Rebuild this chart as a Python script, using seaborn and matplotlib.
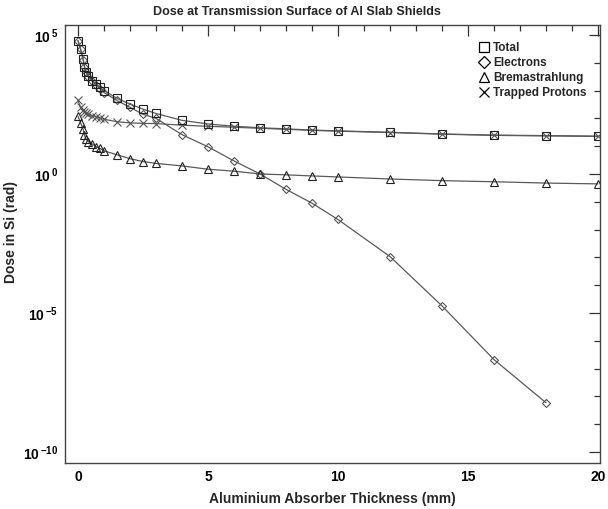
import numpy as np
import pandas as pd
import matplotlib
matplotlib.use("Agg")
import matplotlib.pyplot as plt
import seaborn as sns
from matplotlib.lines import Line2D
from matplotlib.ticker import FixedLocator, NullFormatter

# ---- data ----
thickness = [0, 0.1, 0.2, 0.25, 0.3, 0.4, 0.55, 0.7, 0.85, 1.0, 1.5, 2.0, 2.5, 3.0,
             4.0, 5.0, 6.0, 7.0, 8.0, 9.0, 10.0, 12.0, 14.0, 16.0, 18.0, 20.0]
total = [6.3e4, 3.1e4, 1.35e4, 7.2e3, 4.8e3, 3.4e3, 2.3e3, 1.75e3, 1.3e3, 1.0e3,
         525, 330, 215, 150, 85, 63, 52, 46, 42, 38, 35.5, 31.6, 27.5, 25, 24, 23]
thickness_e = thickness[:-1]
electrons = [6.25e4, 3.05e4, 1.3e4, 7.0e3, 4.6e3, 3.2e3, 2.15e3, 1.6e3, 1.17e3, 850,
             440, 250, 140, 100, 26, 9.5, 2.95, 1.0, 0.28, 0.089, 0.023, 1.07e-3,
             1.8e-5, 2.1e-7, 5.9e-9]
brems = [120, 69, 40, 25, 18.6, 14.5, 12, 9.5, 8.3, 6.8, 4.9, 3.55, 2.8, 2.4,
         1.95, 1.48, 1.26, 1.0, 0.93, 0.85, 0.78, 0.66, 0.575, 0.525, 0.47, 0.44]
protons = [440, 250, 195, 175, 160, 140, 125, 115, 100, 93, 76, 69, 66, 65,
           57, 52, 48, 44, 40.5, 37, 34.7, 31, 27, 24.5, 23.4, 22.4]
labels = ["Total", "Electrons", "Bremastrahlung", "Trapped Protons"]
yticks_major = [1e-10, 1e-5, 1e0, 1e5]
ytick_labels = [r"$\mathbf{10}^{\,\mathbf{-10}}$", r"$\mathbf{10}^{\,\mathbf{-5}}$",
                r"$\mathbf{10}^{\,\mathbf{0}}$", r"$\mathbf{10}^{\,\mathbf{5}}$"]
xticks_major = [0, 5, 10, 15, 20]

sns.set_style("white")
plt.rcParams["font.family"] = ["Liberation Sans", "DejaVu Sans"]
plt.rcParams["font.weight"] = "bold"
plt.rcParams["mathtext.fontset"] = "custom"
plt.rcParams["mathtext.rm"] = "Liberation Sans:bold"
plt.rcParams["mathtext.bf"] = "Liberation Sans:bold"
plt.rcParams["mathtext.it"] = "Liberation Sans:bold"

fig = plt.figure(figsize=(6.08, 5.09), dpi=100)
ax = fig.add_axes([65/608, 1-463/509, (600-65)/608, (463-25)/509])

line_c = "#5a5a5a"
df_e = pd.DataFrame({"t": thickness_e, "d": electrons})
df_b = pd.DataFrame({"t": thickness, "d": brems})
df_p = pd.DataFrame({"t": thickness, "d": protons})
df_t = pd.DataFrame({"t": thickness, "d": total})

sns.lineplot(data=df_e, x="t", y="d", ax=ax, color=line_c, lw=0.9, marker="D",
             markersize=3.6, markerfacecolor="none", markeredgecolor="#555555",
             markeredgewidth=0.8)
sns.lineplot(data=df_b, x="t", y="d", ax=ax, color=line_c, lw=0.9, marker="^",
             markersize=5.5, markerfacecolor="none", markeredgecolor="#222222",
             markeredgewidth=0.8)
sns.lineplot(data=df_p, x="t", y="d", ax=ax, color=line_c, lw=0.9, marker="x",
             markersize=5.5, markeredgecolor="#555555", markeredgewidth=0.8)
sns.lineplot(data=df_t, x="t", y="d", ax=ax, color=line_c, lw=0.9, marker="s",
             markersize=5.5, markerfacecolor="none", markeredgecolor="#222222",
             markeredgewidth=0.8)

ax.set_yscale("log")
ax.set_xlim(-0.5, 20.08)
ax.set_ylim(10**-10.4, 10**5.36)

ax.xaxis.set_major_locator(FixedLocator(xticks_major))
ax.xaxis.set_minor_locator(FixedLocator(np.arange(0, 21, 1)))
ax.set_xticklabels([str(v) for v in xticks_major])
ax.yaxis.set_major_locator(FixedLocator(yticks_major))
ax.yaxis.set_minor_locator(FixedLocator([10.0**k for k in range(-10, 6)]))
ax.yaxis.set_minor_formatter(NullFormatter())
ax.set_yticklabels(ytick_labels)

ax.tick_params(which="both", direction="in", top=True, right=True, colors="#333333",
               labelcolor="black")
ax.tick_params(which="major", length=8, width=0.9, labelsize=10, pad=5)
ax.tick_params(which="minor", length=4, width=0.9)
for s in ax.spines.values():
    s.set_visible(True)
    s.set_color("#444444")
    s.set_linewidth(1.0)

ax.set_xlabel("Aluminium Absorber Thickness (mm)", fontsize=10, fontweight="bold", labelpad=6)
ax.set_ylabel("Dose in Si (rad)", fontsize=10, fontweight="bold")
ax.yaxis.set_label_coords(-0.088, 0.527)
fig.text(297/608, 1-12/509, "Dose at Transmission Surface of Al Slab Shields",
         ha="center", va="center", fontsize=9, fontweight="bold")

handles = [
    Line2D([], [], ls="none", marker="s", markersize=7, markerfacecolor="none",
           markeredgecolor="black", markeredgewidth=0.9),
    Line2D([], [], ls="none", marker="D", markersize=6.5, markerfacecolor="none",
           markeredgecolor="black", markeredgewidth=0.9),
    Line2D([], [], ls="none", marker="^", markersize=7.5, markerfacecolor="none",
           markeredgecolor="black", markeredgewidth=0.9),
    Line2D([], [], ls="none", marker="x", markersize=7, markeredgecolor="black",
           markeredgewidth=0.9),
]
leg = ax.legend(handles, labels, loc="upper left", bbox_to_anchor=(478/608, 1-42/509),
                bbox_transform=fig.transFigure, frameon=False, fontsize=8.5,
                handlelength=1.0, handletextpad=0.3, labelspacing=0.25,
                borderpad=0, borderaxespad=0)
for t in leg.get_texts():
    t.set_fontweight("bold")

fig.savefig("out.png", dpi=100)
